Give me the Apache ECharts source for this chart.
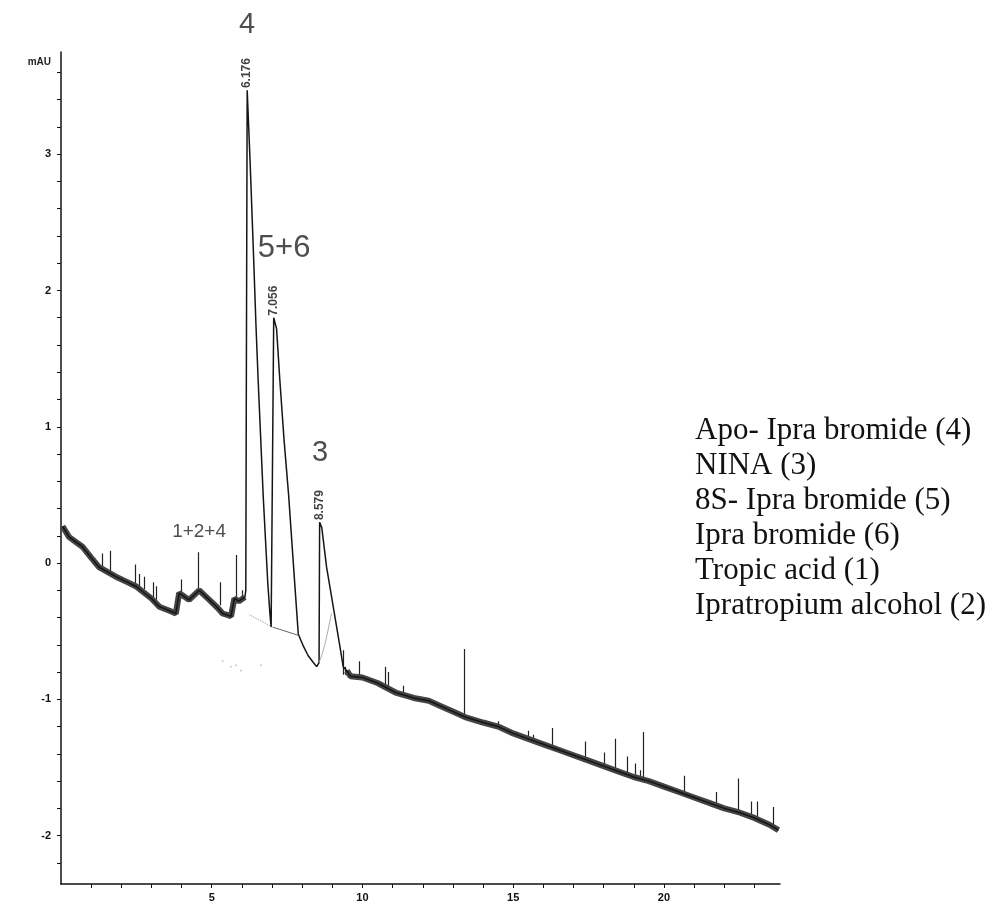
<!DOCTYPE html>
<html>
<head>
<meta charset="utf-8">
<script src="https://cdn.jsdelivr.net/npm/echarts@6/dist/echarts.min.js"></script>
<style>
html, body { margin: 0; padding: 0; background: #fff; }
#chart { width: 997px; height: 905px; }
</style>
</head>
<body>
<div id="chart"></div>
<script>
// baseline before the main peaks (min, mAU)
var baseLeft = [
    [0.05, 0.27], [0.27, 0.19], [0.71, 0.12], [1.0, 0.04], [1.26, -0.03],
    [1.82, -0.10], [2.2, -0.14], [2.48, -0.17], [3.0, -0.26], [3.26, -0.32],
    [3.6, -0.35], [3.81, -0.37], [3.92, -0.22], [4.25, -0.27], [4.58, -0.20],
    [4.92, -0.27], [5.2, -0.33], [5.36, -0.37], [5.64, -0.39], [5.75, -0.26],
    [5.9, -0.28], [6.1, -0.25]
];
// peaks 4, 5+6 and 3
var peakRegion = [
    [6.1, -0.25], [6.13, -0.20], [6.15, 1.50], [6.176, 3.47], [6.27, 2.96],
    [6.38, 2.30], [6.47, 1.73], [6.54, 1.34], [6.71, 0.48], [6.86, -0.15],
    [6.93, -0.37], [6.97, -0.47], [7.02, -0.47], [7.056, 1.80], [7.15, 1.72],
    [7.26, 1.34], [7.40, 0.90], [7.55, 0.50], [7.70, 0.02], [7.87, -0.52],
    [8.04, -0.61], [8.2, -0.68], [8.37, -0.73], [8.48, -0.76], [8.56, -0.73],
    [8.579, 0.30], [8.65, 0.26], [8.81, -0.03], [9.03, -0.32], [9.25, -0.61],
    [9.36, -0.76], [9.48, -0.79]
];
// baseline after the peaks
var baseRight = [
    [9.48, -0.79], [9.6, -0.83], [10.0, -0.84], [10.5, -0.88], [11.1, -0.95],
    [11.7, -0.99], [12.2, -1.01], [12.6, -1.05], [13.0, -1.09], [13.4, -1.13],
    [14.0, -1.17], [14.5, -1.20], [15.0, -1.25], [15.5, -1.29], [16.0, -1.33],
    [16.5, -1.37], [17.0, -1.41], [17.5, -1.45], [18.0, -1.49], [18.5, -1.53],
    [19.0, -1.57], [19.5, -1.60], [20.0, -1.64], [20.5, -1.68], [21.0, -1.72],
    [21.5, -1.76], [22.0, -1.80], [22.5, -1.83], [23.0, -1.87], [23.5, -1.92],
    [23.8, -1.96]
];
// noise spikes: [min, base, top]
var spikes = [
    [1.37, -0.05, 0.07], [1.63, -0.07, 0.09], [2.46, -0.16, -0.01], [2.61, -0.18, -0.08],
    [2.76, -0.19, -0.10], [3.06, -0.25, -0.14], [3.15, -0.27, -0.17], [3.98, -0.22, -0.12],
    [4.56, -0.20, 0.08], [5.28, -0.31, -0.14], [5.80, -0.27, 0.06], [6.02, -0.27, -0.20],
    [9.35, -0.82, -0.64], [9.42, -0.82, -0.76], [9.88, -0.83, -0.72], [10.76, -0.92, -0.76],
    [10.87, -0.93, -0.80], [11.34, -0.97, -0.90], [13.36, -1.14, -0.63], [14.5, -1.20, -1.16],
    [15.49, -1.29, -1.23], [15.66, -1.30, -1.26], [16.30, -1.35, -1.21], [17.39, -1.44, -1.31],
    [18.01, -1.49, -1.39], [18.37, -1.52, -1.29], [18.79, -1.55, -1.42], [19.05, -1.57, -1.47],
    [19.2, -1.58, -1.52], [19.31, -1.58, -1.24], [20.66, -1.68, -1.56], [21.72, -1.77, -1.68],
    [22.46, -1.83, -1.58], [22.88, -1.86, -1.75], [23.08, -1.88, -1.75], [23.63, -1.94, -1.79]
];
// integration baselines
var integrationDotted = [[6.25, -0.38], [6.93, -0.46]];
var integrationSolid = [[7.02, -0.47], [7.87, -0.53]];
var integrationCurve = [[8.56, -0.73], [8.7, -0.64], [8.85, -0.50], [8.97, -0.37]];
var strayDots = [[5.36, -0.72], [5.64, -0.76], [5.80, -0.75], [5.97, -0.79], [6.63, -0.75]];

var retentionTimes = ['6.176', '7.056', '8.579'];
var apexes = [[6.176, 3.47], [7.056, 1.80], [8.579, 0.30]];
var peakNames = ['1+2+4', '4', '5+6', '3'];
var peakNameAt = [[4.58, 0.23], [6.17, 3.95], [7.40, 2.31], [8.59, 0.81]];

var compounds = [
    'Apo- Ipra bromide (4)',
    'NINA (3)',
    '8S- Ipra bromide (5)',
    'Ipra bromide (6)',
    'Tropic acid (1)',
    'Ipratropium alcohol (2)'
];

var xTicks = [1, 2, 3, 4, 5, 6, 7, 8, 9, 10, 11, 12, 13, 14, 15, 16, 17, 18, 19, 20, 21, 22, 23];
var xLabels = [5, 10, 15, 20];
var yTicks = [-2.2, -2, -1.8, -1.6, -1.4, -1.2, -1, -0.8, -0.6, -0.4, -0.2, 0, 0.2, 0.4, 0.6,
    0.8, 1, 1.2, 1.4, 1.6, 1.8, 2, 2.2, 2.4, 2.6, 2.8, 3, 3.2, 3.4, 3.6];
var yLabels = [-2, -1, 0, 1, 2, 3];

var chartDom = document.getElementById('chart');
var myChart = echarts.init(chartDom);
var option;

var trace = baseLeft.slice(0, -1).concat(peakRegion, baseRight.slice(1));
var tickFont = { fontFamily: 'Liberation Sans', fontSize: 11, fontWeight: 'bold', color: '#111' };

option = {
    animation: false,
    backgroundColor: '#fff',
    title: {
        text: compounds.join('\n'),
        left: 690,
        top: 408,
        textStyle: {
            fontFamily: 'Liberation Serif',
            fontSize: 31,
            fontWeight: 'normal',
            color: '#111',
            lineHeight: 35
        }
    },
    grid: { left: 61, right: 217, top: 52, bottom: 21, containLabel: false },
    xAxis: {
        type: 'value',
        min: 0,
        max: 23.85,
        splitLine: { show: false },
        axisLine: { onZero: false, lineStyle: { color: '#111', width: 1.5 } },
        axisTick: { customValues: xTicks, length: 4, lineStyle: { color: '#111' } },
        axisLabel: Object.assign({ customValues: xLabels, margin: 8 }, tickFont)
    },
    yAxis: {
        type: 'value',
        min: -2.355,
        max: 3.75,
        name: 'mAU',
        nameLocation: 'end',
        nameGap: -10,
        nameTextStyle: {
            fontFamily: 'Liberation Sans', fontSize: 10, fontWeight: 'bold', color: '#222',
            align: 'right', verticalAlign: 'middle', padding: [0, 10, 0, 0]
        },
        splitLine: { show: false },
        axisLine: { onZero: false, lineStyle: { color: '#111', width: 1.5 } },
        axisTick: { customValues: yTicks, length: 4, lineStyle: { color: '#111' } },
        axisLabel: Object.assign({ customValues: yLabels, margin: 10 }, tickFont)
    },
    series: [
        {
            name: 'band left',
            type: 'line',
            data: baseLeft,
            symbol: 'none',
            silent: true,
            lineStyle: { color: '#444', width: 6 }
        },
        {
            name: 'band right',
            type: 'line',
            data: baseRight,
            symbol: 'none',
            silent: true,
            lineStyle: { color: '#444', width: 6 }
        },
        {
            name: 'signal',
            type: 'line',
            data: trace,
            symbol: 'none',
            silent: true,
            lineStyle: { color: '#151515', width: 1.5 }
        },
        {
            name: 'spikes',
            type: 'lines',
            coordinateSystem: 'cartesian2d',
            silent: true,
            lineStyle: { color: '#222', width: 1.2, opacity: 1 },
            data: spikes.map(function (s) {
                return { coords: [[s[0], s[1]], [s[0], s[2]]] };
            })
        },
        {
            name: 'baseline dotted',
            type: 'line',
            data: integrationDotted,
            symbol: 'none',
            silent: true,
            lineStyle: { color: '#999', width: 1, type: 'dotted' }
        },
        {
            name: 'baseline solid',
            type: 'line',
            data: integrationSolid,
            symbol: 'none',
            silent: true,
            lineStyle: { color: '#666', width: 1 }
        },
        {
            name: 'baseline curve',
            type: 'line',
            data: integrationCurve,
            symbol: 'none',
            smooth: true,
            silent: true,
            lineStyle: { color: '#aaa', width: 1 }
        },
        {
            name: 'dots',
            type: 'scatter',
            data: strayDots,
            symbolSize: 2,
            silent: true,
            itemStyle: { color: '#bbb' }
        },
        {
            name: 'retention',
            type: 'scatter',
            symbolSize: 0.1,
            silent: true,
            clip: false,
            data: apexes.map(function (p, i) {
                return { value: p, name: retentionTimes[i] };
            }),
            label: {
                show: true,
                formatter: '{b}',
                position: 'top',
                distance: 2,
                rotate: 90,
                align: 'left',
                verticalAlign: 'middle',
                fontFamily: 'Liberation Sans',
                fontSize: 12,
                fontWeight: 'bold',
                color: '#111'
            }
        },
        {
            name: 'peak names',
            type: 'scatter',
            symbolSize: 0.1,
            silent: true,
            clip: false,
            data: peakNameAt.map(function (p, i) {
                var size = 29;
                if (peakNames[i] === '1+2+4') size = 19;
                if (peakNames[i] === '5+6') size = 31;
                return { value: p, name: peakNames[i], label: { fontSize: size } };
            }),
            label: {
                show: true,
                formatter: '{b}',
                position: 'inside',
                fontFamily: 'Liberation Sans',
                color: '#222'
            }
        }
    ]
};

option && myChart.setOption(option);
</script>
</body>
</html>
